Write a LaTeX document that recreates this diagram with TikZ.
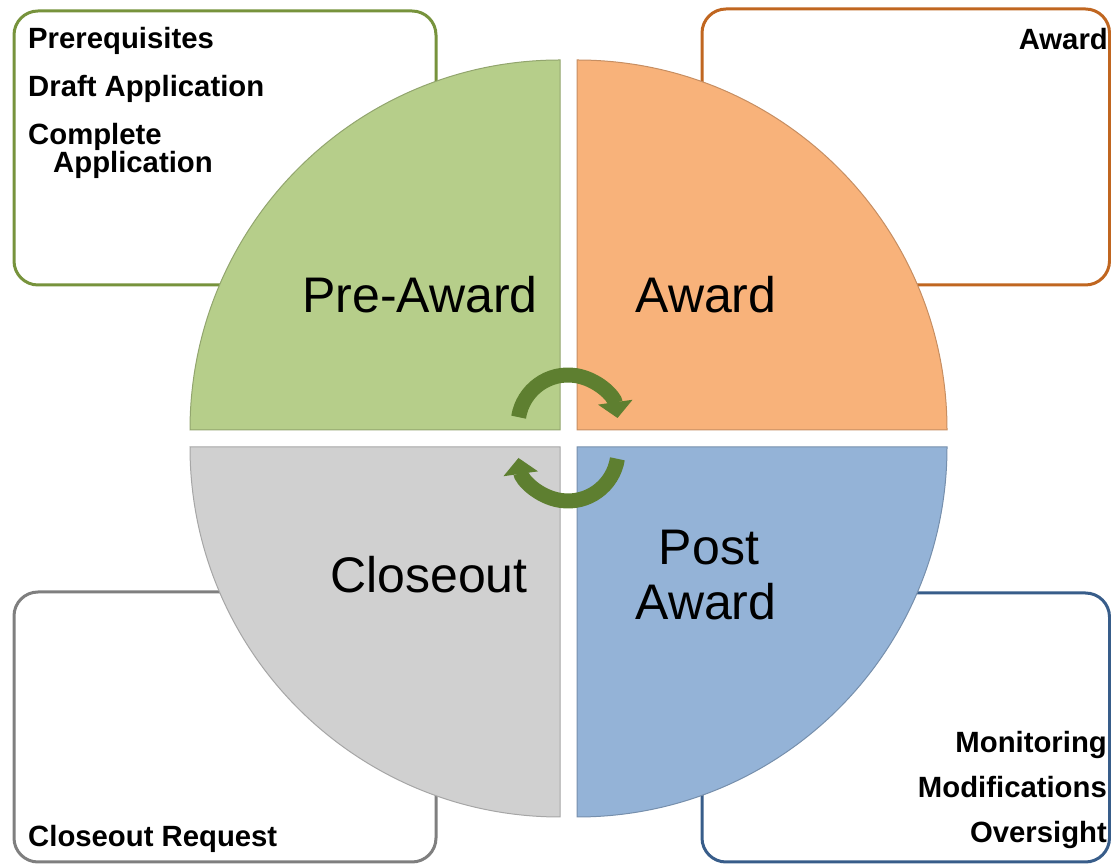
\documentclass[tikz,border=0pt]{standalone}
\usepackage{fontspec}
\setmainfont{Liberation Sans}
\usetikzlibrary{arrows.meta}

\definecolor{pregreen}{RGB}{182,206,138}
\definecolor{preline}{RGB}{119,147,60}
\definecolor{awdorange}{RGB}{248,178,122}
\definecolor{awdline}{RGB}{192,102,32}
\definecolor{postblue}{RGB}{148,179,215}
\definecolor{postline}{RGB}{56,93,138}
\definecolor{closegray}{RGB}{208,208,208}
\definecolor{closeline}{RGB}{127,127,127}
\definecolor{cyclegreen}{RGB}{94,127,48}

\begin{document}
\begin{tikzpicture}[x=1pt, y=1pt,
		box/.style={line width=3pt, rounded corners=24pt, fill=white},
		sector/.style={line width=1pt},
		item/.style={inner sep=0pt, font=\fontsize{29.3}{28}\selectfont\bfseries},
		phase/.style={inner sep=0pt, font=\fontsize{50}{55}\selectfont},
		cyclearrow/.style={cyclegreen, line width=15pt, -{Triangle[width=34pt,length=16pt]}}]
			\useasboundingbox (0,0) rectangle (1111,864);

			\draw [box, draw=preline] (14,579) rectangle (436,853);
			\draw [box, draw=awdline] (702,579) rectangle (1109.5,855);
			\draw [box, draw=closeline] (14,2) rectangle (436,272);
			\draw [box, draw=postline] (702,2) rectangle (1109.5,271);

			\filldraw [sector, fill=pregreen, draw=pregreen!80!black] (560,434) -- (190,434) arc[start angle=180, end angle=90, radius=370] -- cycle;
			\filldraw [sector, fill=awdorange, draw=awdorange!80!black] (577,434) -- (577,804) arc[start angle=90, end angle=0, radius=370] -- cycle;
			\filldraw [sector, fill=closegray, draw=closegray!80!black] (560,417) -- (560,47) arc[start angle=270, end angle=180, radius=370] -- cycle;
			\filldraw [sector, fill=postblue, draw=postblue!80!black] (577,417) -- (947,417) arc[start angle=0, end angle=-90, radius=370] -- cycle;

			\node [phase, anchor=base] (preaward) at (420,551) {Pre-Award};
			\node [phase, anchor=base] (award) at (706,551) {Award};
			\node [phase, anchor=base] (closeout) at (429,271) {Closeout};
			\node [phase, anchor=base] (post1) at (709,299) {Post};
			\node [phase, anchor=base] (post2) at (706,244) {Award};

			\node [item, anchor=base west] (prereq) at (28,815) {Prerequisites};
			\node [item, anchor=base west] (draft) at (28,767) {Draft Application};
			\node [item, anchor=base west] (complete1) at (28,719) {Complete};
			\node [item, anchor=base west] (complete2) at (53,691) {Application};
			\node [item, anchor=base east] (awarditem) at (1108,814) {Award};
			\node [item, anchor=base east] (monitor) at (1107,111) {Monitoring};
			\node [item, anchor=base east] (modif) at (1107,66) {Modifications};
			\node [item, anchor=base east] (oversight) at (1107,21) {Oversight};
			\node [item, anchor=base west] (request) at (28,17) {Closeout Request};

			\coordinate (toparc) at (568,439);
			\coordinate (botarc) at (568,413);
			\draw [cyclearrow] ([shift={(171:50)}]toparc) arc[start angle=171, end angle=8, radius=50];
			\draw [cyclearrow] ([shift={(-9:50)}]botarc) arc[start angle=-9, end angle=-172, radius=50];
		\end{tikzpicture}
\end{document}
